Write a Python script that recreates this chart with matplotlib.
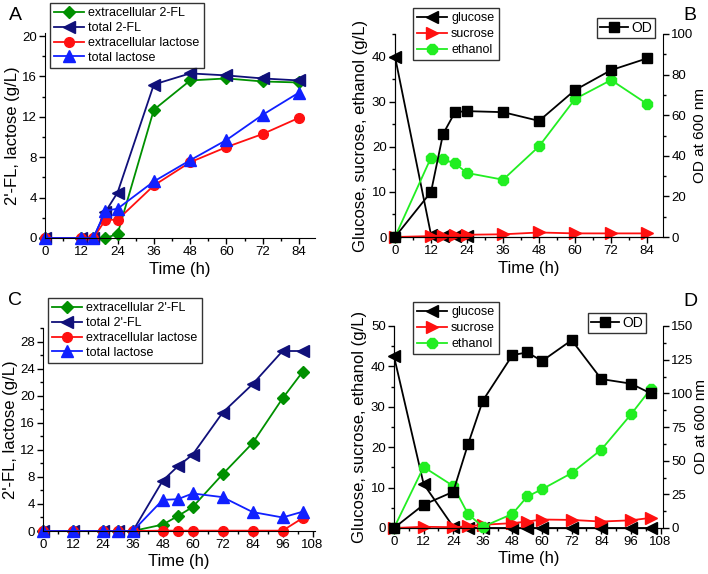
import matplotlib
matplotlib.use("Agg")
import matplotlib.pyplot as plt
from matplotlib.ticker import MultipleLocator

plt.rcParams['font.family'] = ['Liberation Sans', 'DejaVu Sans']
plt.rcParams['font.size'] = 10

# ---------------- Data ----------------
# Panel A
tA = [0, 12, 16, 20, 24, 36, 48, 60, 72, 84]
A_ext_fl = [0, 0, 0, 0, 0.4, 12.7, 15.6, 15.8, 15.5, 15.4]
A_tot_fl = [0, 0, 0, 2.6, 4.5, 15.2, 16.3, 16.1, 15.8, 15.6]
A_ext_lac = [0, 0, 0, 1.8, 1.8, 5.2, 7.5, 9.0, 10.3, 11.9]
A_tot_lac = [0, 0, 0, 2.7, 2.9, 5.6, 7.7, 9.7, 12.2, 14.4]

# Panel B
tB = [0, 12, 16, 20, 24, 36, 48, 60, 72, 84]
tB_glc = [0, 12, 16, 20, 24]
B_glucose = [40, 0.5, 0.3, 0.3, 0.2]
B_sucrose = [0, 0.2, 0.2, 0.4, 0.5, 0.6, 1.0, 0.8, 0.8, 0.8]
B_ethanol = [0, 17.6, 17.2, 16.3, 14.2, 12.7, 20.1, 30.6, 34.8, 29.5]
B_od = [0, 22.2, 50.7, 61.5, 62, 61.5, 57.2, 72.4, 82.2, 88]

# Panel C
tC = [0, 12, 24, 30, 36, 48, 54, 60, 72, 84, 96, 104]
C_ext_fl = [0, 0, 0, 0, 0, 0.95, 2.2, 3.55, 8.4, 13.0, 19.6, 23.5]
C_tot_fl = [0, 0, 0, 0, 0, 7.45, 9.55, 11.3, 17.5, 21.7, 26.6, 26.6]
C_ext_lac = [0, 0, 0, 0, 0, 0.05, 0.05, 0.05, 0.05, 0.05, 0.05, 1.9]
C_tot_lac = [0, 0, 0, 0, 0, 4.6, 4.7, 5.55, 5.0, 2.8, 2.0, 2.85]

# Panel D
tD = [0, 12, 24, 30, 36, 48, 54, 60, 72, 84, 96, 104]
D_glucose = [42.5, 10.9, 0.3, 0, 0, 0, 0, 0, 0, 0, 0, 0]
D_sucrose = [0, 0.3, 0.2, 0.4, 0.8, 1.2, 1.6, 2.1, 2.0, 1.6, 1.9, 2.5]
D_ethanol = [0, 15.1, 10.4, 3.45, 0.3, 3.5, 7.8, 9.6, 13.6, 19.4, 28.1, 34.4]
D_od = [0, 17.3, 26.9, 62.2, 94.6, 128.4, 130.4, 124, 139.5, 110.6, 107.2, 100]

W, H = 708, 574
fig = plt.figure(figsize=(W / 100, H / 100), dpi=100)


def ax_rect(l, t, r, b):
    return [l / W, 1 - b / H, (r - l) / W, (b - t) / H]


GREEN = '#009000'
NAVY = '#10107a'
RED = '#ff1010'
BLUE = '#1020ff'
LIME = '#22ee22'
lw = 1.3
TICK_FS = 9.5
LABEL_FS = 12
LEG_FS = 9


def style(ax, right=False):
    ax.spines['top'].set_visible(False)
    if not right:
        ax.spines['right'].set_visible(False)
    ax.tick_params(which='major', direction='out', length=4.5, width=1,
                   labelsize=TICK_FS, pad=1.5)
    ax.tick_params(which='minor', direction='out', length=2.5, width=1)


def plot(ax, x, y, color, marker, label, msz):
    ax.plot(x, y, color=color, marker=marker, markersize=msz, lw=lw,
            label=label, clip_on=False, markeredgecolor=color)


def legend(ax, x, y, fs=LEG_FS, hl=2.4, ls=0.22, bp=0.35):
    leg = ax.legend(loc='upper left', bbox_to_anchor=(x / W, 1 - y / H),
                    bbox_transform=fig.transFigure, frameon=True, fancybox=False,
                    edgecolor='black', fontsize=fs, handlelength=hl,
                    borderpad=bp, labelspacing=ls, handletextpad=0.3,
                    borderaxespad=0)
    leg.get_frame().set_linewidth(1.0)
    return leg


# ---------- Panel A ----------
axA = fig.add_axes(ax_rect(45, 33, 315, 238))
plot(axA, tA, A_ext_fl, GREEN, 'D', 'extracellular 2-FL', 6)
plot(axA, tA, A_tot_fl, NAVY, '<', 'total 2-FL', 8)
plot(axA, tA, A_ext_lac, RED, 'o', 'extracellular lactose', 7)
plot(axA, tA, A_tot_lac, BLUE, '^', 'total lactose', 8)
axA.set_xlim(0, 89.3)
axA.set_ylim(0, 20.3)
axA.xaxis.set_major_locator(MultipleLocator(12))
axA.xaxis.set_minor_locator(MultipleLocator(6))
axA.yaxis.set_major_locator(MultipleLocator(4))
axA.yaxis.set_minor_locator(MultipleLocator(2))
style(axA)
axA.set_xlabel('Time (h)', fontsize=LABEL_FS, labelpad=3)
axA.set_ylabel("2'-FL, lactose (g/L)", fontsize=LABEL_FS, labelpad=1.5)
legend(axA, 50, 3)
fig.text(9 / W, 1 - 20 / H, 'A', fontsize=14)

# ---------- Panel B ----------
axB = fig.add_axes(ax_rect(395, 34, 663, 237))
axB2 = axB.twinx()
plot(axB, tB_glc, B_glucose, 'black', '<', 'glucose', 8)
plot(axB, tB, B_sucrose, RED, '>', 'sucrose', 8)
plot(axB, tB, B_ethanol, LIME, '8', 'ethanol', 8)
axB2.plot(tB, B_od, color='black', marker='s', markersize=7, lw=lw,
          label='OD', clip_on=False)
axB.set_xlim(0, 89.3)
axB.set_ylim(0, 45)
axB2.set_ylim(0, 100)
axB.xaxis.set_major_locator(MultipleLocator(12))
axB.xaxis.set_minor_locator(MultipleLocator(6))
axB.yaxis.set_major_locator(MultipleLocator(10))
axB.yaxis.set_minor_locator(MultipleLocator(5))
axB2.yaxis.set_major_locator(MultipleLocator(20))
axB2.yaxis.set_minor_locator(MultipleLocator(10))
style(axB)
style(axB2, right=True)
axB.set_xlabel('Time (h)', fontsize=LABEL_FS, labelpad=3)
axB.set_ylabel('Glucose, sucrose, ethanol (g/L)', fontsize=LABEL_FS, labelpad=3)
axB2.set_ylabel('OD at 600 nm', fontsize=11, labelpad=-0.5)
legend(axB, 413, 8, ls=0.3)
legend(axB2, 597, 18, fs=10, hl=2.0, bp=0.2)
fig.text(683 / W, 1 - 20 / H, 'B', fontsize=14)

# ---------- Panel C ----------
axC = fig.add_axes(ax_rect(43, 328, 315, 531))
plot(axC, tC, C_ext_fl, GREEN, 'D', "extracellular 2'-FL", 6)
plot(axC, tC, C_tot_fl, NAVY, '<', "total 2'-FL", 8)
plot(axC, tC, C_ext_lac, RED, 'o', 'extracellular lactose', 7)
plot(axC, tC, C_tot_lac, BLUE, '^', 'total lactose', 8)
axC.set_xlim(0, 109)
axC.set_ylim(0, 30)
axC.xaxis.set_major_locator(MultipleLocator(12))
axC.xaxis.set_minor_locator(MultipleLocator(6))
axC.yaxis.set_major_locator(MultipleLocator(4))
axC.yaxis.set_minor_locator(MultipleLocator(2))
style(axC)
axC.set_xlabel('Time (h)', fontsize=LABEL_FS, labelpad=2)
axC.set_ylabel("2'-FL, lactose (g/L)", fontsize=LABEL_FS, labelpad=1.5)
legend(axC, 48, 298)
fig.text(8 / W, 1 - 305 / H, 'C', fontsize=14)

# ---------- Panel D ----------
axD = fig.add_axes(ax_rect(394, 326, 663, 528))
axD2 = axD.twinx()
plot(axD, tD, D_glucose, 'black', '<', 'glucose', 8)
plot(axD, tD, D_sucrose, RED, '>', 'sucrose', 8)
plot(axD, tD, D_ethanol, LIME, '8', 'ethanol', 8)
axD2.plot(tD, D_od, color='black', marker='s', markersize=7, lw=lw,
          label='OD', clip_on=False)
axD.set_xlim(0, 109)
axD.set_ylim(0, 50)
axD2.set_ylim(0, 150)
axD.xaxis.set_major_locator(MultipleLocator(12))
axD.xaxis.set_minor_locator(MultipleLocator(6))
axD.yaxis.set_major_locator(MultipleLocator(10))
axD.yaxis.set_minor_locator(MultipleLocator(5))
axD2.yaxis.set_major_locator(MultipleLocator(25))
axD2.yaxis.set_minor_locator(MultipleLocator(12.5))
style(axD)
style(axD2, right=True)
axD.set_xlabel('Time (h)', fontsize=LABEL_FS, labelpad=2)
axD.set_ylabel('Glucose, sucrose, ethanol (g/L)', fontsize=LABEL_FS, labelpad=3)
axD2.set_ylabel('OD at 600 nm', fontsize=11, labelpad=0)
legend(axD, 413, 302, ls=0.3)
legend(axD2, 588, 313, fs=10, hl=2.0, bp=0.2)
fig.text(683 / W, 1 - 306 / H, 'D', fontsize=14)

fig.savefig('out.png', dpi=100)
